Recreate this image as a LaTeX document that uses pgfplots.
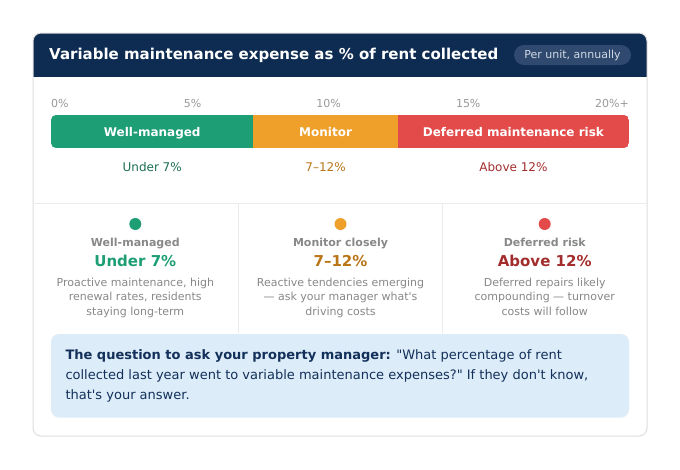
\documentclass[border=0pt]{standalone}
\usepackage{pgfplots}
\pgfplotsset{compat=1.18}
\usepackage{fontspec}
\setmainfont{DejaVu Sans}

\definecolor{navy}{HTML}{0E2C52}
\definecolor{pill}{HTML}{2F4A6E}
\definecolor{pilltext}{HTML}{D2DAE5}
\definecolor{cgreen}{HTML}{1D9E75}
\definecolor{corange}{HTML}{EFA02A}
\definecolor{cred}{HTML}{E24B4A}
\definecolor{tgreen}{HTML}{1A6E52}
\definecolor{torange}{HTML}{BA7517}
\definecolor{tred}{HTML}{A32D2D}
\definecolor{lgray}{HTML}{999999}
\definecolor{mgray}{HTML}{888888}
\definecolor{cardline}{HTML}{DEDEDE}
\definecolor{sepline}{HTML}{EBEBEB}
\definecolor{qbox}{HTML}{DCECF8}
\definecolor{qtext}{HTML}{13305A}

\newcommand{\fs}[2]{\fontsize{#1}{#2}\selectfont}

\begin{document}
\begin{tikzpicture}[x=1pt,y=-1pt]
\useasboundingbox (0,0) rectangle (680,469);
\fill[white] (0,0) rectangle (680,469);

% card and header
\fill[white, rounded corners=8] (33,33) rectangle (647,436);
\begin{scope}
  \clip[rounded corners=8] (33,33) rectangle (647,436);
  \fill[navy] (33,33) rectangle (647,76.5);
\end{scope}
\draw[cardline, line width=1pt, rounded corners=8] (33,33) rectangle (647,436);

\node[anchor=base west, inner sep=0, text=white, font=\fs{15}{18}\bfseries] at (49,59.5)
  {Variable maintenance expense as \% of rent collected};
\fill[pill, rounded corners=10] (514,45) rectangle (631,65);
\node[anchor=base, inner sep=0, text=pilltext, font=\fs{11}{13}] at (572.5,58.8) {Per unit, annually};

% scale labels
\begin{scope}[font=\fs{11}{13}, text=lgray]
  \node[anchor=base west, inner sep=0] at (51,107.7) {0\%};
  \node[anchor=base west, inner sep=0] at (183.6,107.7) {5\%};
  \node[anchor=base west, inner sep=0] at (316.2,107.7) {10\%};
  \node[anchor=base west, inner sep=0] at (455.8,107.7) {15\%};
  \node[anchor=base east, inner sep=0] at (629,107.7) {20\%+};
\end{scope}

% the banded bar
\begin{scope}
\clip[rounded corners=5] (51,115) rectangle (629,148);
\begin{axis}[
    at={(51pt,-148pt)}, anchor=south west,
    width=578pt, height=33pt, scale only axis,
    xbar stacked, bar width=33pt,
    xmin=0, xmax=20, ymin=-0.5, ymax=0.5,
    hide axis,
  ]
  \addplot[fill=cgreen, draw=none] coordinates {(7,0)};
  \addplot[fill=corange, draw=none] coordinates {(5,0)};
  \addplot[fill=cred, draw=none] coordinates {(8,0)};
\end{axis}
\end{scope}

\begin{scope}[font=\fs{12}{14}\bfseries, text=white]
  \node[anchor=base, inner sep=0] at (152.2,136.5) {Well-managed};
  \node[anchor=base, inner sep=0] at (325.6,136.5) {Monitor};
  \node[anchor=base, inner sep=0] at (513.4,136.5) {Deferred maintenance risk};
\end{scope}

\node[anchor=base, inner sep=0, text=tgreen, font=\fs{12}{14}] at (152.2,171.7) {Under 7\%};
\node[anchor=base, inner sep=0, text=torange, font=\fs{12}{14}] at (325.6,171.7) {7–12\%};
\node[anchor=base, inner sep=0, text=tred, font=\fs{12}{14}] at (513.4,171.7) {Above 12\%};

% separators
\draw[sepline, line width=1pt] (33.5,203.5) -- (646.5,203.5);
\draw[sepline, line width=1pt] (238.5,203.5) -- (238.5,333);
\draw[sepline, line width=1pt] (442.5,203.5) -- (442.5,333);

% three columns
\fill[cgreen] (135.3,224) circle[radius=6];
\fill[corange] (340.5,224) circle[radius=6];
\fill[cred] (544.7,224) circle[radius=6];

\begin{scope}[font=\fs{11}{13}\bfseries, text=mgray]
  \node[anchor=base, inner sep=0] at (135.3,246.7) {Well-managed};
  \node[anchor=base, inner sep=0] at (340.5,246.7) {Monitor closely};
  \node[anchor=base, inner sep=0] at (544.7,246.7) {Deferred risk};
\end{scope}
\node[anchor=base, inner sep=0, text=cgreen, font=\fs{15}{18}\bfseries] at (135.3,266.7) {Under 7\%};
\node[anchor=base, inner sep=0, text=torange, font=\fs{15}{18}\bfseries] at (340.5,266.7) {7–12\%};
\node[anchor=base, inner sep=0, text=tred, font=\fs{15}{18}\bfseries] at (544.7,266.7) {Above 12\%};

\begin{scope}[font=\fs{11}{13}, text=mgray]
  \node[anchor=base, inner sep=0] at (135.3,286) {Proactive maintenance, high};
  \node[anchor=base, inner sep=0] at (135.3,300.7) {renewal rates, residents};
  \node[anchor=base, inner sep=0] at (135.3,315.3) {staying long-term};
  \node[anchor=base, inner sep=0] at (340.5,286) {Reactive tendencies emerging};
  \node[anchor=base, inner sep=0] at (340.5,300.7) {— ask your manager what\textquotesingle s};
  \node[anchor=base, inner sep=0] at (340.5,315.3) {driving costs};
  \node[anchor=base, inner sep=0] at (544.7,286) {Deferred repairs likely};
  \node[anchor=base, inner sep=0] at (544.7,300.7) {compounding — turnover};
  \node[anchor=base, inner sep=0] at (544.7,315.3) {costs will follow};
\end{scope}

% question box
\fill[qbox, rounded corners=8] (51,334) rectangle (629,417.5);
\begin{scope}[font=\fs{13}{20}, text=qtext]
  \node[anchor=base west, inner sep=0] at (65.3,359.3)
    {\textbf{The question to ask your property manager:} \textquotedbl What percentage of rent};
  \node[anchor=base west, inner sep=0] at (65.3,379.3)
    {collected last year went to variable maintenance expenses?\textquotedbl\ If they don\textquotesingle t know,};
  \node[anchor=base west, inner sep=0] at (65.3,399.3)
    {that\textquotesingle s your answer.};
\end{scope}
\end{tikzpicture}
\end{document}
